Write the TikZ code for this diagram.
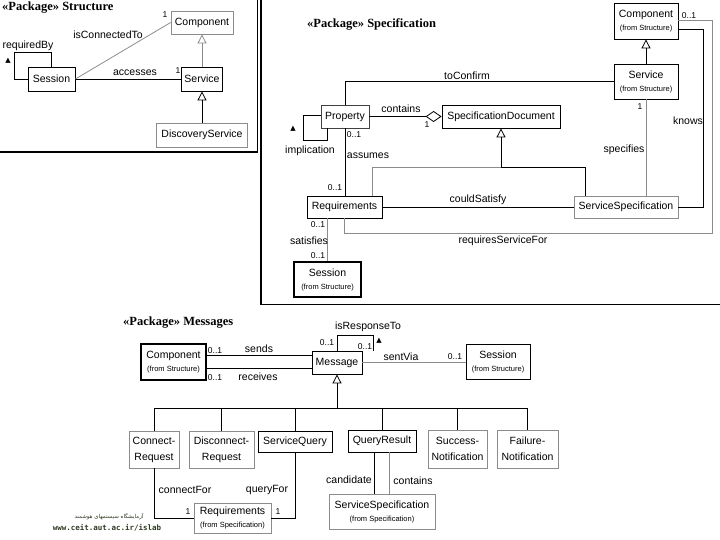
\documentclass[tikz,border=0pt]{standalone}
\usepackage{fontspec}
\setmainfont{Liberation Sans}
\newfontfamily\titlefont{Liberation Serif}
\newfontfamily\arabicfont[Script=Arabic]{DejaVu Sans}
\newfontfamily\urlfont{DejaVu Sans Mono}
\newfontfamily\symfont{DejaVu Sans}
\TeXXeTstate=1
\usetikzlibrary{arrows.meta}
\definecolor{lg}{gray}{0.55}
\definecolor{wm}{HTML}{2E3A22}
\newcommand\dirf{\fontsize{7.5}{8}\selectfont}
\begin{document}
\begin{tikzpicture}[x=1pt,y=-1pt,
  box/.style={draw=black, line width=0.8pt, fill=white, inner sep=1pt, align=center, font=\fontsize{10.5}{14}\selectfont},
  gbox/.style={box, draw=lg},
  tbox/.style={box, line width=1.1pt},
  ln/.style={line width=0.8pt, draw=black},
  gln/.style={line width=0.8pt, draw=lg},
  gen/.style={-{Triangle[open,length=9pt,width=9pt]}},
  agg/.style={-{Diamond[open,length=16pt,width=11pt]}},
  lab/.style={font=\fontsize{10.5}{12}\selectfont, inner sep=0pt},
  mul/.style={font=\fontsize{8.5}{10}\selectfont, inner sep=0pt},
  ttl/.style={font=\titlefont\bfseries\fontsize{12.5}{14}\selectfont, inner sep=0pt, anchor=west},
  sym/.style={font=\symfont\fontsize{7}{8}\selectfont, inner sep=0pt},
]
\useasboundingbox (0,0) rectangle (720,540);

% ---------- frames ----------
\draw[line width=1.2pt] (257.5,0) -- (257.5,152) -- (0,152);
\draw[line width=1.2pt] (261,0) -- (261,304.5) -- (720,304.5);

% ---------- Structure ----------
\node[ttl] (t1) at (2,8) {«Package» Structure};
\node[gbox, minimum width=62pt, minimum height=23pt] (sComp) at (202,22.5) {Component};
\node[box, minimum width=47pt, minimum height=24pt] (sSess) at (51.5,79) {Session};
\node[box, minimum width=41pt, minimum height=24pt] (sServ) at (202,79) {Service};
\node[gbox, minimum width=91pt, minimum height=24pt] (sDisc) at (202,135) {DiscoveryService};

\draw[ln] (sSess.east) -- (sServ.west);
\draw[gln] (sSess.east) -- (sComp.west);
\draw[gln,gen] (sServ.north) -- (sComp.south);
\draw[ln,gen] (sDisc.north) -- (sServ.south);
\coordinate (rb1) at (14,52);
\draw[ln] (sSess.west) -| (rb1) -| (sSess.north);

\node[lab] (l1) at (135,73) {accesses};
\node[mul] (l2) at (178,71) {1};
\node[lab] (l3) at (108,35) {isConnectedTo};
\node[mul] (l4) at (165,15) {1};
\node[lab] (l5) at (28,46) {requiredBy};
\node[sym] (l6) at (8,61) {▲};

% ---------- Specification ----------
\node[ttl] (t2) at (307,24) {«Package» Specification};
\node[box, minimum width=64pt, minimum height=36pt] (pComp) at (646,21) {Component\\[-1pt]{\dirf (from Structure)}};
\node[box, minimum width=64pt, minimum height=35pt] (pServ) at (646,81.5) {Service\\[-1pt]{\dirf (from Structure)}};
\node[box, draw=black!75, minimum width=48pt, minimum height=23pt] (pProp) at (345,116.5) {Property};
\node[box, minimum width=118pt, minimum height=23pt] (pSpecDoc) at (501,116.5) {SpecificationDocument};
\node[box, minimum width=75pt, minimum height=22pt] (pReq) at (344.5,207) {Requirements};
\node[gbox, minimum width=104pt, minimum height=22pt] (pServSpec) at (626,207) {ServiceSpecification};
\node[tbox, minimum width=67pt, minimum height=35pt] (pSess) at (327.5,279.5) {Session\\[-1pt]{\dirf (from Structure)}};

\coordinate (c1) at (712,233);
\draw[gln] ([yshift=1pt]pComp.east) -| (c1) -| (pReq.south);
\coordinate (c2) at (703,29);
\draw[ln] ([yshift=-8pt]pComp.east) -- (c2) |- (pServSpec.east);
\draw[gln] (pServ.south) -- (pServ.south |- pServSpec.north);
\draw[ln,gen] (pServ.north) -- (pComp.south);
\draw[ln] (pServ.west) -| (pProp.north);
\draw[ln,agg] (pProp.east) -- (pSpecDoc.west);
\coordinate (c3) at (303,140);
\draw[ln] ([yshift=1.5pt]pProp.west) -| (c3) -| ([xshift=-18pt]pProp.south);
\draw[ln] (pProp.south) -- (pProp.south |- pReq.north);
\coordinate (c4) at (501,167);
\draw[ln,gen] (c4) -- (pSpecDoc.south);
\draw[ln] (c4) -| ([xshift=-41pt]pServSpec.north);
\draw[gln] (c4) -| ([xshift=27.5pt]pReq.north);
\draw[ln] (pReq.east) -- (pServSpec.west);
\draw[gln] (pSess.north |- pReq.south) -- (pSess.north);

\node[mul] (m1) at (689,16) {0..1};
\node[lab] (m2) at (688,121) {knows};
\node[mul] (m3) at (640,107) {1};
\node[lab] (m4) at (624,150) {specifies};
\node[lab] (m5) at (467,76) {toConfirm};
\node[lab] (m6) at (401,109) {contains};
\node[mul] (m7) at (427,125) {1};
\node[lab] (m8) at (310,151) {implication};
\node[sym] (m9) at (293,129) {▲};
\node[mul] (m10) at (354,135) {0..1};
\node[lab] (m11) at (368,156) {assumes};
\node[mul] (m12) at (335,188) {0..1};
\node[lab] (m13) at (478,200) {couldSatisfy};
\node[lab] (m14) at (503,241) {requiresServiceFor};
\node[mul] (m15) at (318,225) {0..1};
\node[lab] (m16) at (309,241) {satisfies};
\node[mul] (m17) at (318,256) {0..1};

% ---------- Messages ----------
\node[ttl] (t3) at (123,323) {«Package» Messages};
\node[tbox, minimum width=65pt, minimum height=36pt] (mComp) at (173.5,362) {Component\\[-1pt]{\dirf (from Structure)}};
\node[box, minimum width=50pt, minimum height=23pt] (mMsg) at (337,362.5) {Message};
\node[box, minimum width=64pt, minimum height=35pt] (mSess) at (498,361.5) {Session\\[-1pt]{\dirf (from Structure)}};

\draw[ln] ([yshift=7pt]mComp.east) -- ([yshift=7pt]mComp.east -| mMsg.west);
\draw[ln] ([yshift=-6pt]mComp.east) -- ([yshift=-6pt]mComp.east -| mMsg.west);
\draw[gln] (mMsg.east) -- (mMsg.east -| mSess.west);
\coordinate (c5) at (373,335);
\draw[ln] (mMsg.north) |- (c5) -- (c5 |- mMsg.north);

\node[mul] (n1) at (215,351) {0..1};
\node[lab] (n2) at (259,349) {sends};
\node[mul] (n3) at (215,378) {0..1};
\node[lab] (n4) at (258,377) {receives};
\node[lab] (n5) at (368,327) {isResponseTo};
\node[mul] (n6) at (327,343) {0..1};
\node[mul] (n7) at (365,347) {0..1};
\node[sym] (n8) at (379,341) {▲};
\node[lab] (n9) at (401,357) {sentVia};
\node[mul] (n10) at (455,357) {0..1};

\node[gbox, minimum width=50pt, minimum height=37pt] (mConn) at (154,449.5) {Connect-\\[2pt]Request};
\node[gbox, minimum width=65pt, minimum height=37pt] (mDisc) at (221.5,449.5) {Disconnect-\\[2pt]Request};
\node[box, minimum width=74pt, minimum height=21pt] (mSQ) at (295,441.5) {ServiceQuery};
\node[box, minimum width=68pt, minimum height=22pt] (mQR) at (382,441) {QueryResult};
\node[gbox, minimum width=59pt, minimum height=38pt] (mSucc) at (457.5,449) {Success-\\[2pt]Notification};
\node[gbox, minimum width=61pt, minimum height=38pt] (mFail) at (527.5,449) {Failure-\\[2pt]Notification};
\node[gbox, minimum width=77pt, minimum height=30pt] (mReq) at (232.5,518) {Requirements\\[-1pt]{\dirf (from Specification)}};
\node[gbox, minimum width=106pt, minimum height=35pt] (mSS) at (382,511.5) {ServiceSpecification\\[-1pt]{\dirf (from Specification)}};

\coordinate (c6) at (337,408);
\draw[ln,gen] (c6) -- (mMsg.south);
\draw[ln] (mConn.north |- c6) -- (mFail.north |- c6);
\foreach \n in {mConn,mDisc,mSQ,mQR,mSucc,mFail}
  \draw[ln] (\n.north |- c6) -- (\n.north);

\draw[ln] (mConn.south) |- (mReq.west);
\draw[ln] (mSQ.south) |- (mReq.east);
\draw[ln] ([xshift=-8pt]mQR.south) -- ([xshift=-8pt]mQR.south |- mSS.north);
\draw[gln] ([xshift=7pt]mQR.south) -- ([xshift=7pt]mQR.south |- mSS.north);

\node[lab] (o1) at (185,490) {connectFor};
\node[lab] (o2) at (267,490) {queryFor};
\node[mul] (o3) at (188,512) {1};
\node[mul] (o4) at (278,512) {1};
\node[lab] (o5) at (349,480) {candidate};
\node[lab] (o6) at (413,481) {contains};

% ---------- watermark ----------
\node[inner sep=0pt, text=wm, font=\arabicfont\fontsize{5.5}{6}\selectfont] (w1) at (109,517) {\beginR آزمایشگاه سیستمهای هوشمند\endR};
\node[inner sep=0pt, text=wm, font=\urlfont\bfseries\fontsize{7.5}{8}\selectfont] (w2) at (107,528) {www.ceit.aut.ac.ir/islab};
\end{tikzpicture}
\end{document}
